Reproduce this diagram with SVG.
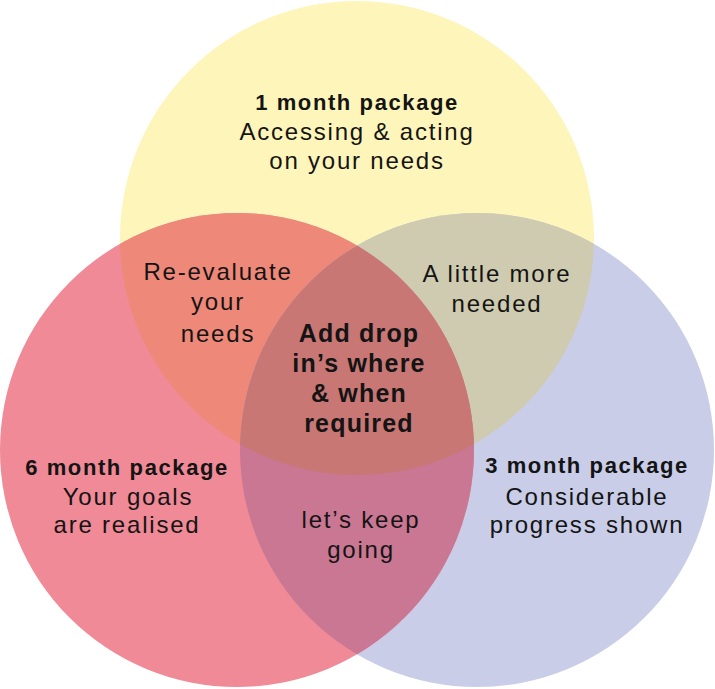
<svg xmlns="http://www.w3.org/2000/svg" width="715" height="689" viewBox="0 0 715 689">
<style>
text{font-family:"Liberation Sans",Arial,sans-serif;font-size:24px;letter-spacing:1.8px;fill:#141414;text-anchor:middle}
.b{font-weight:700;font-size:22px;letter-spacing:1.6px}
.c{font-weight:700;font-size:25px;letter-spacing:1.2px}
</style>
<defs>
<clipPath id="cY"><circle cx="357" cy="238" r="237"/></clipPath>
<clipPath id="cR"><circle cx="237" cy="450" r="237"/></clipPath>
</defs>
<rect width="715" height="689" fill="#ffffff"/>
<g id="yellow"><circle cx="357" cy="238" r="237" fill="#FEF5BA"/></g>
<g id="blue"><circle cx="477" cy="450" r="237" fill="#C9CDE8"/></g>
<g id="red"><circle cx="237" cy="450" r="237" fill="#F08A97"/></g>
<g id="overlaps">
<circle cx="237" cy="450" r="237" fill="#EE8878" clip-path="url(#cY)"/>
<circle cx="477" cy="450" r="237" fill="#CFCBB0" clip-path="url(#cY)"/>
<circle cx="477" cy="450" r="237" fill="#C97792" clip-path="url(#cR)"/>
<g clip-path="url(#cY)"><circle cx="477" cy="450" r="237" fill="#C87775" clip-path="url(#cR)"/></g>
</g>
<g id="t1"><text class="b" x="357" y="110">1 month package</text><text x="357" y="140">Accessing &amp; acting</text><text x="357" y="169">on your needs</text></g>
<g id="t6"><text class="b" x="127" y="475">6 month package</text><text x="128" y="505">Your goals</text><text x="127" y="533">are realised</text></g>
<g id="t3"><text class="b" x="587" y="473">3 month package</text><text x="587" y="505">Considerable</text><text x="587" y="533">progress shown</text></g>
<g id="tyr"><text x="218" y="280">Re-evaluate</text><text x="218" y="310">your</text><text x="218" y="342">needs</text></g>
<g id="tyb"><text x="497" y="282">A little more</text><text x="497" y="312">needed</text></g>
<g id="trb"><text x="361" y="528">let’s keep</text><text x="361" y="558">going</text></g>
<g id="tc"><text class="c" x="359" y="342">Add drop</text><text class="c" x="359" y="372">in’s where</text><text class="c" x="359" y="402">&amp; when</text><text class="c" x="359" y="432">required</text></g>
</svg>
